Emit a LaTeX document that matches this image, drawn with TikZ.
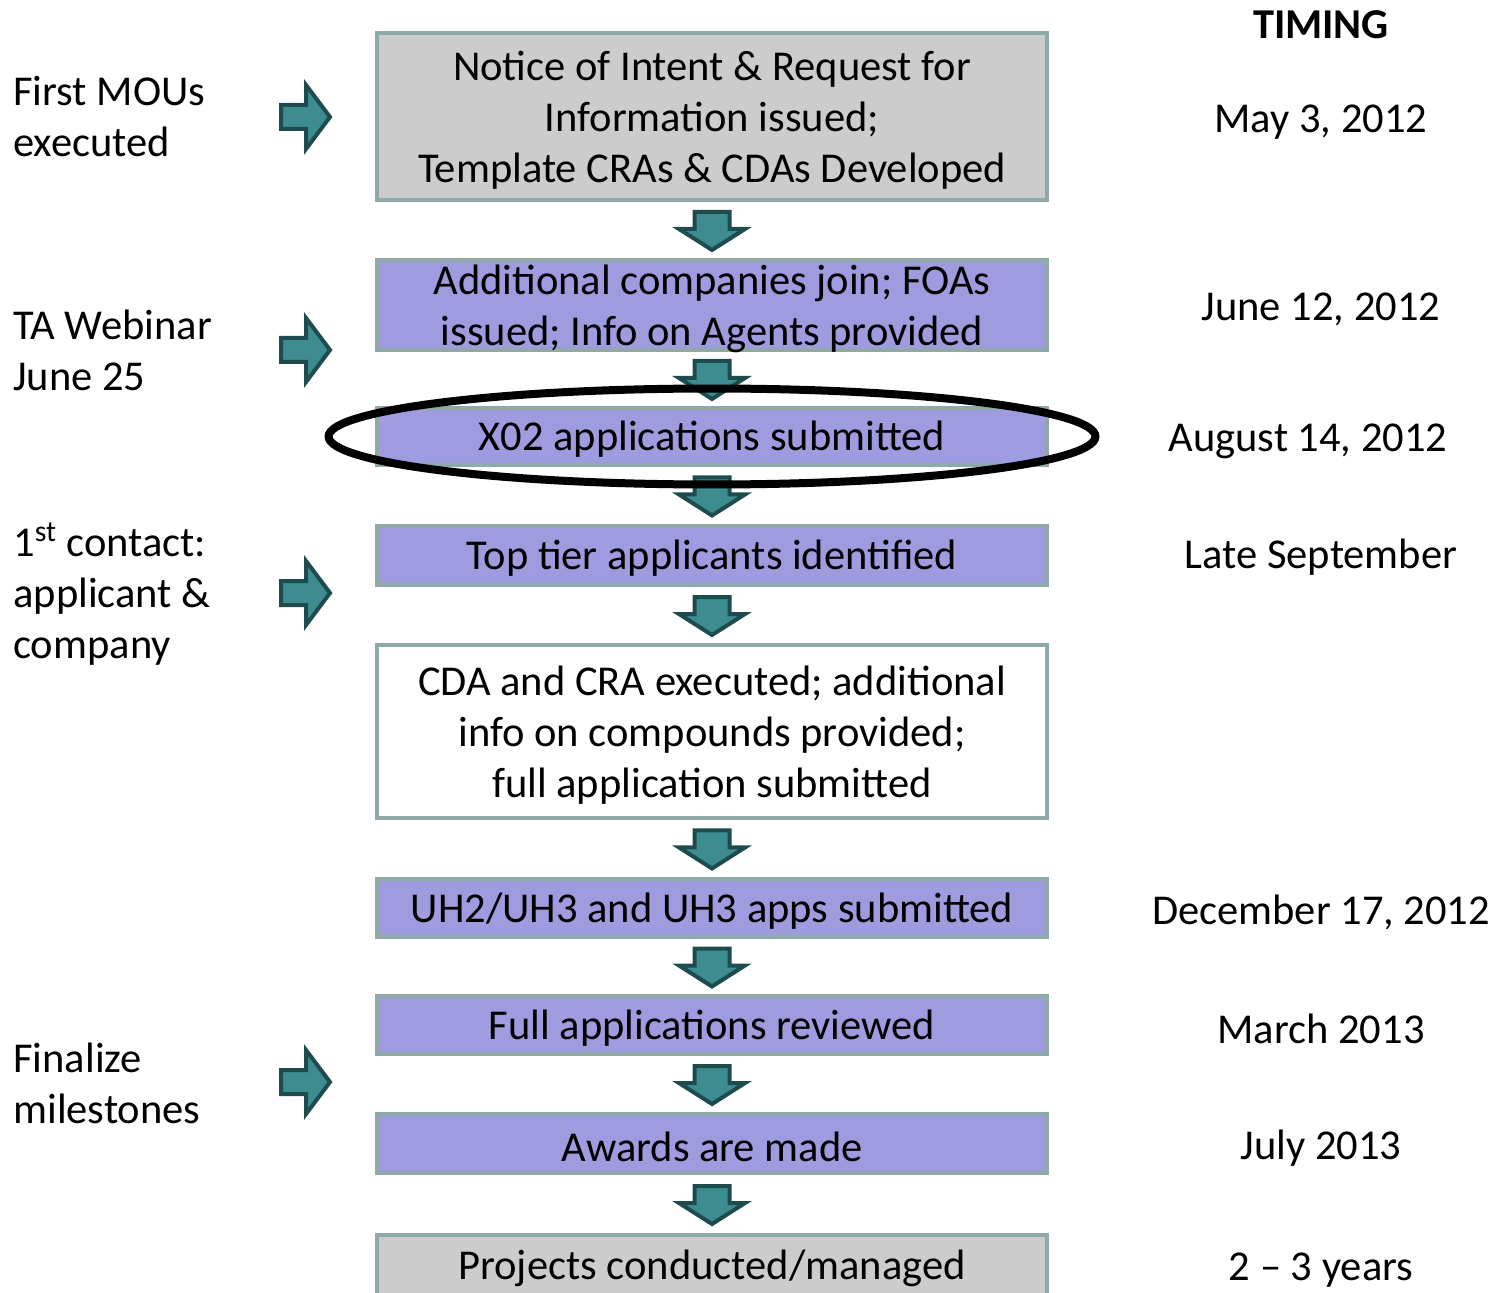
\documentclass[tikz,border=0pt]{standalone}
\usepackage{fontspec}
\setmainfont{Carlito}
\usetikzlibrary{calc,positioning}
\definecolor{boxline}{RGB}{143,169,168}
\definecolor{boxgray}{RGB}{204,204,204}
\definecolor{boxblue}{RGB}{158,156,222}
\definecolor{arrfill}{RGB}{61,140,144}
\definecolor{arrline}{RGB}{30,76,78}

\begin{document}
\begin{tikzpicture}[x=0.02cm, y=-0.02cm,
  every node/.style={font=\fontsize{24.2}{29}\selectfont},
  box/.style={draw=boxline, line width=0.08cm, rectangle, minimum width=13.42cm, inner sep=0pt},
  txt/.style={align=center, inner sep=0pt},
  lbl/.style={anchor=west, align=left, inner sep=0pt},
  date/.style={inner sep=0pt},
  blockarr/.style={draw=arrline, fill=arrfill, line width=0.08cm},
  darr/.pic={\draw[blockarr] (-17.5,-18) -- (17.5,-18) -- (17.5,-1) -- (33,-1) -- (0,20) -- (-33,-1) -- (-17.5,-1) -- cycle;},
  rarr/.pic={\draw[blockarr] (-24,-12) -- (1,-12) -- (1,-32) -- (25,0) -- (1,32) -- (1,12) -- (-24,12) -- cycle;}]
\useasboundingbox (0,0) rectangle (1493,1293);
\clip (0,0) rectangle (1493,1293);
% main flow
\node[box, fill=boxgray, minimum height=3.34cm] (b1) at (712,116.5) {};
\node[box, fill=boxblue, minimum height=1.8cm] (b2) at (712,305) {};
\node[box, fill=boxblue, minimum height=1.14cm] (b3) at (712,436.5) {};
\node[box, fill=boxblue, minimum height=1.18cm] (b4) at (712,555.5) {};
\node[box, fill=white, minimum height=3.46cm] (b5) at (712,731.5) {};
\node[box, fill=boxblue, minimum height=1.16cm] (b6) at (712,908) {};
\node[box, fill=boxblue, minimum height=1.16cm] (b7) at (712,1025) {};
\node[box, fill=boxblue, minimum height=1.18cm] (b8) at (712,1143.5) {};
\node[box, fill=boxgray, minimum height=1.58cm] (b9) at (712,1274.5) {};
\node[txt] (x1) at ([yshift=-0.08cm]b1.center) {Notice of Intent \& Request for\\Information issued;\\Template CRAs \& CDAs Developed};
\node[txt] (x2) at ([yshift=-0.08cm]b2.center) {Additional companies join; FOAs\\issued; Info on Agents provided};
\node[txt] (x3) at ([yshift=-0.06cm]b3.center) {X02 applications submitted};
\node[txt] (x4) at ([yshift=-0.06cm]b4.center) {Top tier applicants identified};
\node[txt] (x5) at ([yshift=-0.08cm]b5.center) {CDA and CRA executed; additional\\info on compounds provided;\\full application submitted};
\node[txt] (x6) at ([yshift=-0.06cm]b6.center) {UH2/UH3 and UH3 apps submitted};
\node[txt] (x7) at ([yshift=-0.06cm]b7.center) {Full applications reviewed};
\node[txt] (x8) at ([yshift=-0.06cm]b8.center) {Awards are made};
\node[txt] (x9) at (712,1268) {Projects conducted/managed};
% block arrows
\pic (a1) at ($(b1.south)!0.5!(b2.north)$) {darr};
\pic (a2) at ($(b2.south)!0.5!(b3.north)$) {darr};
\pic (a3) at ($(b3.south)!0.5!(b4.north)$) {darr};
\pic (a4) at ($(b4.south)!0.5!(b5.north)$) {darr};
\pic (a5) at ($(b5.south)!0.5!(b6.north)$) {darr};
\pic (a6) at ($(b6.south)!0.5!(b7.north)$) {darr};
\pic (a7) at ($(b7.south)!0.5!(b8.north)$) {darr};
\pic (a8) at ($(b8.south)!0.5!(b9.north)$) {darr};
% left side
\node[lbl] (l1) at (13,117) {First MOUs\\executed};
\node[lbl] (l2) at (13,350) {TA Webinar\\June 25};
\node[lbl] (l3) at (13,594) {1\textsuperscript{st} contact:\\applicant \&\\company};
\node[lbl] (l4) at (13,1083) {Finalize\\milestones};
\pic (r1) at (305,117) {rarr};
\pic (r2) at (305,350) {rarr};
\pic (r3) at (305,593) {rarr};
\pic (r4) at (305,1082) {rarr};
% timing
\node[date, font=\fontsize{24.2}{29}\selectfont\bfseries] (t0) at (1321,25) {TIMING};
\node[date] (t1) at (1321,122) {May 3, 2012};
\node[date] (t2) at (1321,309) {June 12, 2012};
\node[date] (t3) at (1308,441) {August 14, 2012};
\node[date] (t4) at (1321,557) {Late September};
\node[date] (t6) at (1321,912) {December 17, 2012};
\node[date] (t7) at (1321,1029) {March 2013};
\node[date] (t8) at (1321,1148) {July 2013};
\node[date] (t9) at (1321,1270) {2 – 3 years};
% highlight
\draw[line width=0.16cm] (b3.center) ellipse [x radius=7.67cm, y radius=0.96cm];
\end{tikzpicture}
\end{document}
